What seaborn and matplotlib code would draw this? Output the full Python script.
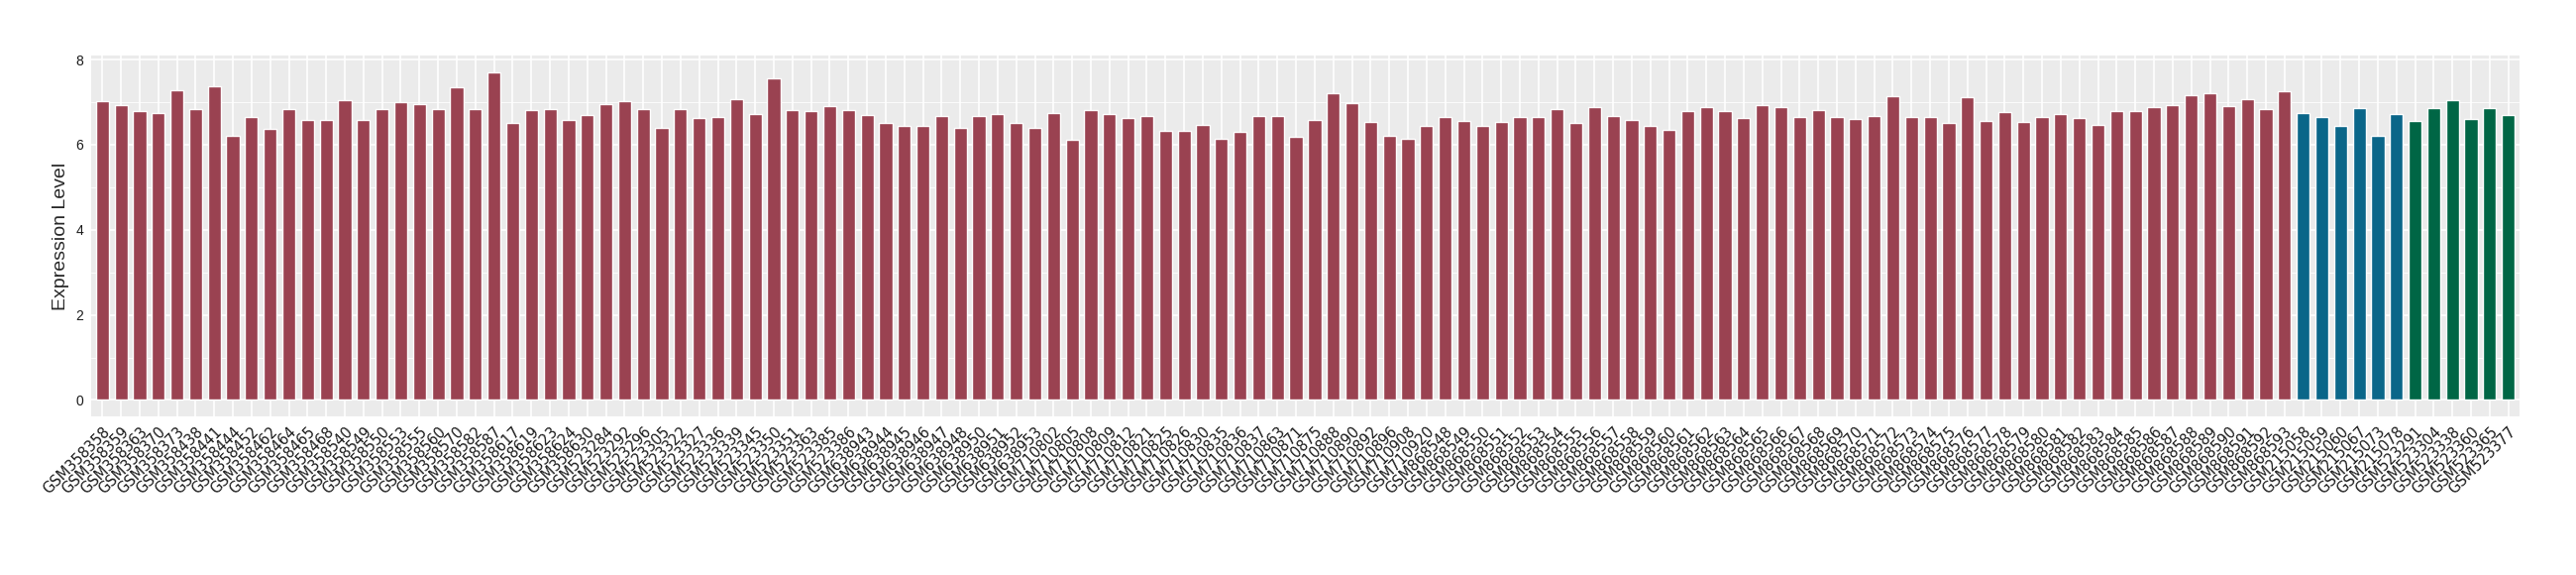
import numpy as np
import pandas as pd
import matplotlib
matplotlib.use("Agg")
import matplotlib.pyplot as plt
import seaborn as sns
from matplotlib.ticker import MultipleLocator

# --- data ---
samples_a = [
    "GSM358358", "GSM358359", "GSM358363", "GSM358370", "GSM358373", "GSM358438",
    "GSM358441", "GSM358444", "GSM358452", "GSM358462", "GSM358464", "GSM358465",
    "GSM358468", "GSM358540", "GSM358549", "GSM358550", "GSM358553", "GSM358555",
    "GSM358560", "GSM358570", "GSM358582", "GSM358587", "GSM358617", "GSM358619",
    "GSM358623", "GSM358624", "GSM358630",
    "GSM523284", "GSM523292", "GSM523296", "GSM523305", "GSM523322", "GSM523327",
    "GSM523336", "GSM523339", "GSM523345", "GSM523350", "GSM523351", "GSM523363",
    "GSM523385", "GSM523386",
    "GSM638943", "GSM638944", "GSM638945", "GSM638946", "GSM638947", "GSM638948",
    "GSM638950", "GSM638951", "GSM638952", "GSM638953",
    "GSM710802", "GSM710805", "GSM710808", "GSM710809", "GSM710812", "GSM710821",
    "GSM710825", "GSM710826", "GSM710830", "GSM710835", "GSM710836", "GSM710837",
    "GSM710863", "GSM710871", "GSM710875", "GSM710888", "GSM710890", "GSM710892",
    "GSM710896", "GSM710908", "GSM710920",
    "GSM868548", "GSM868549", "GSM868550", "GSM868551", "GSM868552", "GSM868553",
    "GSM868554", "GSM868555", "GSM868556", "GSM868557", "GSM868558", "GSM868559",
    "GSM868560", "GSM868561", "GSM868562", "GSM868563", "GSM868564", "GSM868565",
    "GSM868566", "GSM868567", "GSM868568", "GSM868569", "GSM868570", "GSM868571",
    "GSM868572", "GSM868573", "GSM868574", "GSM868575", "GSM868576", "GSM868577",
    "GSM868578", "GSM868579", "GSM868580", "GSM868581", "GSM868582", "GSM868583",
    "GSM868584", "GSM868585", "GSM868586", "GSM868587", "GSM868588", "GSM868589",
    "GSM868590", "GSM868591", "GSM868592", "GSM868593",
]
values_a = [
    7.02, 6.94, 6.78, 6.74, 7.27, 6.83, 7.38, 6.21, 6.65, 6.36, 6.83, 6.58,
    6.58, 7.05, 6.58, 6.84, 7.00, 6.96, 6.83, 7.36, 6.84, 7.71, 6.50, 6.81,
    6.84, 6.58, 6.69,
    6.96, 7.02, 6.83, 6.40, 6.84, 6.63, 6.65, 7.07, 6.71, 7.57, 6.81, 6.78,
    6.91, 6.81,
    6.69, 6.52, 6.45, 6.45, 6.67, 6.39, 6.67, 6.71, 6.52, 6.39,
    6.74, 6.12, 6.81, 6.71, 6.63, 6.67, 6.32, 6.32, 6.47, 6.14, 6.29, 6.67,
    6.67, 6.19, 6.58, 7.20, 6.98, 6.53, 6.21, 6.14, 6.43,
    6.65, 6.56, 6.43, 6.53, 6.65, 6.65, 6.84, 6.50, 6.89, 6.67, 6.58, 6.45,
    6.34, 6.78, 6.89, 6.78, 6.63, 6.94, 6.89, 6.65, 6.81, 6.65, 6.60, 6.67,
    7.13, 6.65, 6.65, 6.52, 7.12, 6.56, 6.76, 6.53, 6.65, 6.71, 6.63, 6.47,
    6.78, 6.78, 6.89, 6.94, 7.16, 7.20, 6.91, 7.07, 6.84, 7.25,
]

samples_b = ["GSM215058", "GSM215059", "GSM215060", "GSM215067", "GSM215073", "GSM215078"]
values_b = [6.74, 6.65, 6.43, 6.87, 6.21, 6.71]

samples_c = ["GSM523291", "GSM523304", "GSM523338", "GSM523360", "GSM523365", "GSM523377"]
values_c = [6.56, 6.87, 7.05, 6.60, 6.87, 6.69]

group_names = ["Group A", "Group B", "Group C"]
group_colors = ["#9A4251", "#0A6689", "#006645"]

df = pd.DataFrame({
    "sample": samples_a + samples_b + samples_c,
    "value": values_a + values_b + values_c,
    "group": [group_names[0]] * len(samples_a)
             + [group_names[1]] * len(samples_b)
             + [group_names[2]] * len(samples_c),
})

# --- plot ---
sns.set_style("white")
plt.rcParams["font.family"] = ["Liberation Sans", "DejaVu Sans"]

fig = plt.figure(figsize=(26, 5.8), dpi=100)
ax = fig.add_axes([92 / 2600, 1 - 420 / 580, (2543 - 92) / 2600, (420 - 56) / 580])

sns.barplot(data=df, x="sample", y="value", hue="group",
            palette=dict(zip(group_names, group_colors)),
            dodge=False, width=0.7, legend=False, saturation=1, ax=ax)

n = len(df)
ymax = df["value"].max()
ax.set_xlim(-0.6, n - 1 + 0.6)
ax.set_ylim(-0.05 * ymax, ymax * 1.05)

ax.set_facecolor("#EBEBEB")
for s in ax.spines.values():
    s.set_visible(False)
ax.yaxis.set_major_locator(MultipleLocator(2))
ax.yaxis.set_minor_locator(MultipleLocator(1))
ax.grid(True, which="major", color="white", linewidth=1.2)
ax.grid(True, which="minor", axis="y", color="white", linewidth=0.6)
ax.set_axisbelow(True)

ax.tick_params(axis="both", which="major", length=3.5, width=0.9, color="#333333",
               labelcolor="#1a1a1a")
ax.tick_params(axis="y", which="minor", length=0)
ax.tick_params(axis="y", labelsize=10, pad=2)
ax.tick_params(axis="x", pad=2)

ax.set_xticks(np.arange(n))
ax.set_xticklabels(df["sample"], rotation=45, ha="right", va="top",
                   rotation_mode="anchor", fontsize=10.5, family=["DejaVu Sans"])

ax.set_xlabel("")
ax.set_ylabel("Expression Level", fontsize=14, labelpad=5)

fig.savefig("out.png", dpi=100)
plt.close(fig)
